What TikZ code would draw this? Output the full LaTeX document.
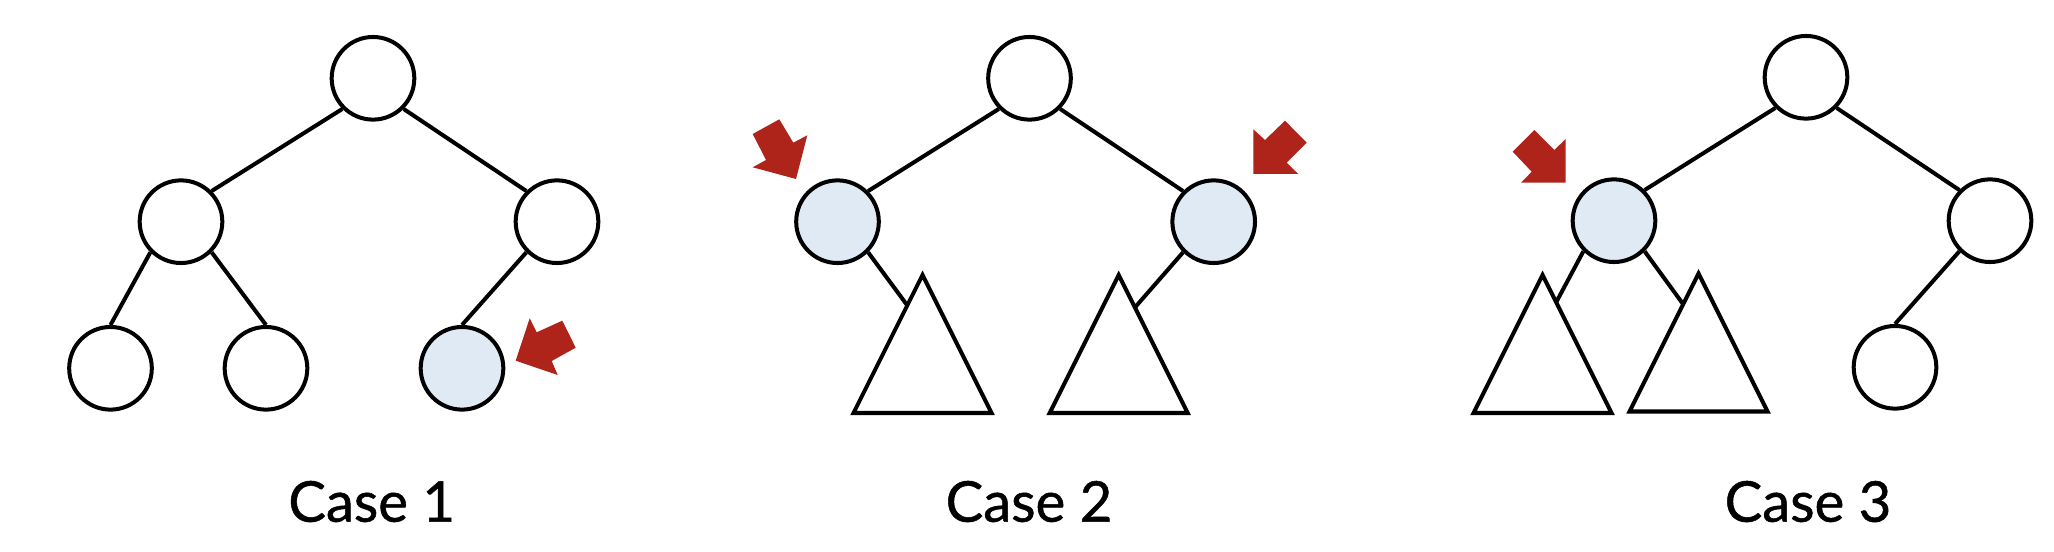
\documentclass[tikz,border=0pt]{standalone}
\usepackage{fontspec}
\setmainfont{Lato}
\newfontfamily\capfont{Lato}[FakeBold=0.9]
\definecolor{arrowred}{RGB}{174,35,26}
\definecolor{hilite}{RGB}{224,234,244}
\begin{document}
\begin{tikzpicture}[x=0.01cm,y=-0.01cm,
  treenode/.style={circle,draw=black,line width=1.14pt,fill=white,minimum size=0.826cm,inner sep=0pt},
  marked/.style={treenode,fill=hilite},
  link/.style={draw=black,line width=1.14pt},
  subtree/.style={draw=black,line width=1.14pt,fill=white,line join=miter},
  pointer/.style={fill=arrowred},
  caption/.style={font=\capfont\fontsize{16pt}{19pt}\selectfont,anchor=base,inner sep=0pt}]
\useasboundingbox (0,0) rectangle (2054,552);

% ---------- Case 1 ----------
\node[treenode] (r1) at (373,78.3) {};
\node[treenode] (a1) at (181,221.7) {};
\node[treenode] (b1) at (557,221.7) {};
\node[treenode] (c1) at (110.5,368.3) {};
\node[treenode] (d1) at (266,368.3) {};
\node[marked]   (e1) at (462,368.3) {};
\draw[link] (r1.south west) -- (a1.north east);
\draw[link] (r1.south east) -- (b1.north west);
\draw[link] (a1.south west) -- (c1.north);
\draw[link] (a1.south east) -- (d1.north);
\draw[link] (b1.south west) -- (e1.north);
\fill[pointer] (515.7,360.7) -- (529.7,318.3) -- (536.7,332.3) -- (562.3,320.7)
  -- (575.7,347.7) -- (551.7,361) -- (557.7,375) -- cycle;
\node[caption] (cap1) at (371.7,521.7) {Case 1};

% ---------- Case 2 ----------
\node[treenode] (r2) at (1029.5,78.3) {};
\node[marked]   (a2) at (837.5,221.7) {};
\node[marked]   (b2) at (1213.7,221.7) {};
\coordinate (t2l) at (922.5,326);
\coordinate (t2r) at (1118.7,326);
\draw[link] (r2.south west) -- (a2.north east);
\draw[link] (r2.south east) -- (b2.north west);
\draw[link] (a2.south east) -- (t2l);
\draw[link] (b2.south west) -- (t2r);
\draw[subtree] (922.5,275) -- (853.5,413) -- (991.5,413) -- cycle;
\draw[subtree] (1118.7,275) -- (1049.7,413) -- (1187.7,413) -- cycle;
\fill[pointer] (752.7,134) -- (779.3,119.3) -- (793.3,142.7) -- (807.3,135.3)
  -- (796,179) -- (752.7,167.3) -- (766,160) -- cycle;
\fill[pointer] (1253.3,129.3) -- (1265,140) -- (1285,120.7) -- (1306.7,142.7)
  -- (1286.7,162.7) -- (1298.3,174) -- (1253.3,174) -- cycle;
\node[caption] (cap2) at (1029,521.7) {Case 2};

% ---------- Case 3 ----------
\node[treenode] (r3) at (1806,77.3) {};
\node[marked]   (a3) at (1614,220.7) {};
\node[treenode] (b3) at (1990,220.7) {};
\node[treenode] (e3) at (1895,367.3) {};
\coordinate (t3l) at (1543.5,326);
\coordinate (t3r) at (1699,326);
\draw[link] (r3.south west) -- (a3.north east);
\draw[link] (r3.south east) -- (b3.north west);
\draw[link] (a3.south west) -- (t3l);
\draw[link] (a3.south east) -- (t3r);
\draw[link] (b3.south west) -- (e3.north);
\draw[subtree] (1542.5,275) -- (1473.5,413) -- (1611.5,413) -- cycle;
\draw[subtree] (1698.5,273.5) -- (1629.5,411.5) -- (1767.5,411.5) -- cycle;
\fill[pointer] (1512.7,151.7) -- (1534.3,130) -- (1554.3,150) -- (1565.7,139)
  -- (1565.7,182.7) -- (1521,182.7) -- (1531.7,171.7) -- cycle;
\node[caption] (cap3) at (1808,521.7) {Case 3};
\end{tikzpicture}
\end{document}
